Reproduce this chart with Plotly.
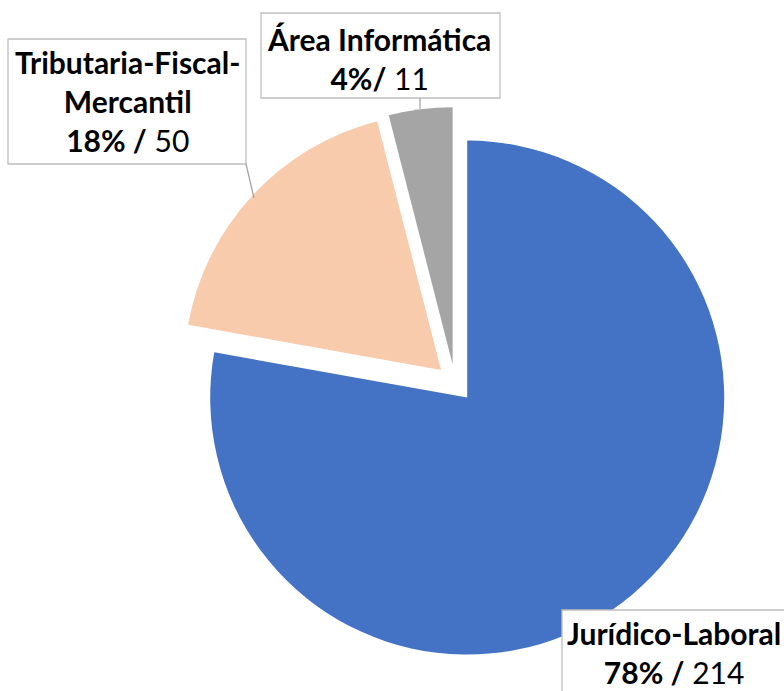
import plotly.graph_objects as go

# ---- data ----
categories = ["Jurídico-Laboral", "Tributaria-Fiscal-Mercantil", "Área Informática"]
label_lines = [["Jurídico-Laboral"], ["Tributaria-Fiscal-", "Mercantil"], ["Área Informática"]]
values = [214, 50, 11]
separators = [" / ", " / ", "/ "]
colors = ["#4472C4", "#F8CBAD", "#A5A5A5"]

W, H = 784, 691
total = sum(values)
pct = [round(v / total * 100) for v in values]

def px(x):
    return x / W

def py(y):
    return 1 - y / H

# pie geometry (pixels)
cx, cy, half = 455, 383, 276
pull = 0.074

fig = go.Figure(go.Pie(
    labels=categories,
    values=values,
    marker=dict(colors=colors, line=dict(width=0)),
    sort=False,
    direction="clockwise",
    rotation=0,
    pull=[pull] * len(values),
    textinfo="none",
    hoverinfo="skip",
    showlegend=False,
    domain=dict(x=[px(cx - half), px(cx + half)], y=[py(cy + half), py(cy - half)]),
))

font_family = "Lato, 'Open Sans', sans-serif"
texts = []
for lines, p, sep, v in zip(label_lines, pct, separators, values):
    t = "<br>".join(f"<b>{l}</b>" for l in lines)
    t += f"<br><b>{p}%{sep.rstrip()}</b>{' ' if sep.endswith(' ') else ''}{v}"
    texts.append(t)

# label boxes (pixels): x0, y0, x1, y1 and text centers
boxes = [(562, 610, 800, 710), (8, 39, 246, 164), (261, 13, 500, 98)]
text_centers = [(674, 652), (127, 101), (379, 58)]

shapes = []
for (x0, y0, x1, y1) in boxes:
    shapes.append(dict(type="rect", xref="paper", yref="paper",
                       x0=px(x0), x1=px(x1), y0=py(y1), y1=py(y0),
                       line=dict(color="#BFBFBF", width=1.3), fillcolor="white", layer="above"))
# leader lines
shapes.append(dict(type="line", xref="paper", yref="paper",
                   x0=px(246), y0=py(164), x1=px(254), y1=py(198),
                   line=dict(color="#A6A6A6", width=1.3)))
shapes.append(dict(type="line", xref="paper", yref="paper",
                   x0=px(420), y0=py(98), x1=px(420), y1=py(109),
                   line=dict(color="#A6A6A6", width=1.3)))

annotations = []
for t, (tx, ty) in zip(texts, text_centers):
    annotations.append(dict(text=t, x=px(tx), y=py(ty), xref="paper", yref="paper",
                            xanchor="center", yanchor="middle", showarrow=False, align="center",
                            font=dict(family=font_family, size=30, color="#000000")))

fig.update_layout(
    width=W, height=H, autosize=False,
    margin=dict(l=0, r=0, t=0, b=0),
    paper_bgcolor="white", plot_bgcolor="white",
    shapes=shapes, annotations=annotations,
)

fig.write_html("out.html", config={"displayModeBar": False},
               post_script="document.body.style.margin='0px';")
